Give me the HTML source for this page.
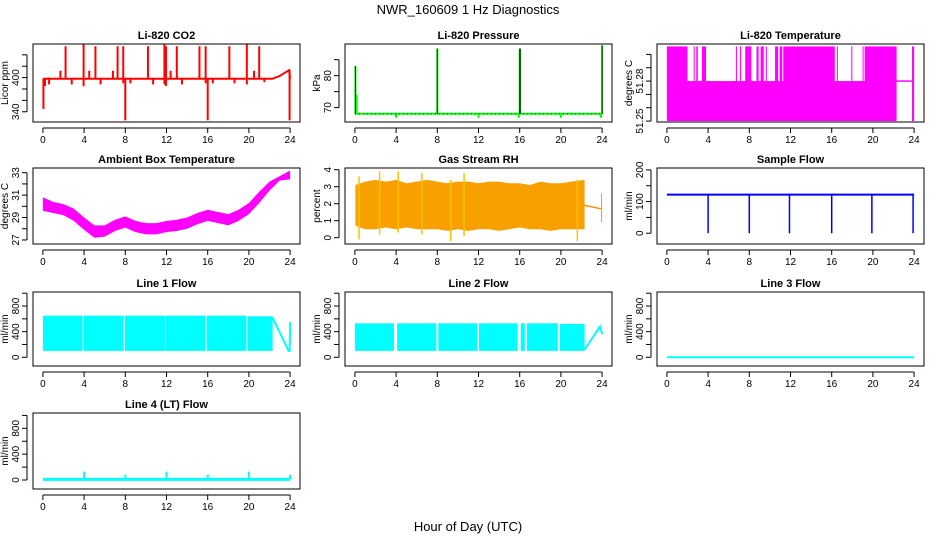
<!DOCTYPE html>
<html><head><meta charset="utf-8"><style>
html,body{margin:0;padding:0;background:#fff;}
svg{display:block;font-family:"Liberation Sans",Arial,sans-serif;}
</style></head><body>
<svg id="chart" width="936" height="540" viewBox="0 0 936 540" xmlns="http://www.w3.org/2000/svg">
<text x="468" y="14" text-anchor="middle" font-size="13">NWR_160609  1 Hz Diagnostics</text>
<text x="468" y="531" text-anchor="middle" font-size="13">Hour of Day (UTC)</text>
</svg>
<script>
// ---- data ----
const xTicks=[0,4,8,12,16,20,24];
const co2Base=[[0,398],[22.3,398],[23,403],[23.9,413],[24,398]];
const co2Spikes=[[0.05,345,398],[0.2,385,398],[0.6,388,400],[1.7,398,412],[2.2,398,455],[2.8,388,398],[3.95,385,458],[4.5,398,412],[5.1,398,455],[5.6,388,398],[6.8,398,412],[7.25,398,455],[7.8,390,455],[8.0,325,398],[8.5,390,398],[10.2,398,455],[10.7,388,398],[11.8,388,458],[11.95,385,455],[12.4,398,412],[13.0,398,455],[13.5,388,398],[15.2,398,455],[15.8,390,455],[16.0,325,398],[16.5,390,398],[18.1,398,455],[18.6,390,398],[19.8,388,458],[20.5,398,412],[21.0,398,455],[21.5,392,398],[23.95,325,413]];
const presBase=[[0,68.1],[24,68.1]];
const presSpikes=[[0.05,68,83],[0.15,68,74],[4,66.8,68.1],[8,68,88.5],[12,66.8,68.1],[15.9,66.8,68.1],[16,68,88.5],[16.05,68,88.5],[20,66.8,68.1],[23.9,66.8,68.1],[24,68,89.5]];
const tempBase=[[0,22.3,51.25,51.28],[23.8,24,51.25,51.306]];
const tempTop=[[0,2.0],[2.6,2.7],[2.85,3.0],[3.4,3.8],[6.7,6.8],[7.1,7.2],[7.6,8.2],[8.7,8.9],[9.1,9.4],[9.6,9.7],[10.5,10.8],[10.95,11.2],[11.3,16.3],[16.5,16.6],[17.9,18.0],[19.0,19.05],[19.2,22.3]];
const tempLine=[[22.3,51.28],[23.8,51.28]];
const ambHours=[0,1,2,3,4,5,6,7,8,9,10,11,12,13,14,15,16,17,18,19,20,21,22,23,24];
const ambHi=[30.8,30.4,30.2,29.8,29.0,28.3,28.3,28.8,29.1,28.7,28.5,28.5,28.7,28.8,29.0,29.4,29.7,29.5,29.3,29.7,30.3,31.3,32.2,32.7,33.2];
const ambLo=[29.6,29.4,29.2,28.7,27.9,27.2,27.3,27.8,28.1,27.7,27.5,27.5,27.7,27.8,28.0,28.4,28.7,28.5,28.3,28.7,29.3,30.3,31.4,32.3,32.4];
const rhHours=[0.05,1,2,3,4,5,6,7,8,9,10,11,12,13,14,15,16,17,18,19,20,21,22.3];
const rhHi=[3.1,3.3,3.4,3.3,3.4,3.2,3.3,3.4,3.3,3.2,3.3,3.3,3.2,3.3,3.3,3.2,3.2,3.1,3.3,3.2,3.2,3.3,3.4];
const rhLo=[0.7,0.5,0.5,0.6,0.5,0.6,0.5,0.5,0.5,0.4,0.5,0.4,0.5,0.5,0.4,0.5,0.6,0.5,0.5,0.4,0.5,0.5,0.5];
const rhPeaks=[[0.4,-0.1,3.6],[2.4,0.2,3.9],[4.2,0.3,3.9],[6.5,0.2,3.8],[9.3,-0.2,3.4],[10.6,0.1,3.8],[21.6,-0.2,3.4]];
const rhTail=[[22.3,1.9],[23.9,1.7]];
const rhEnd=[[23.9,24,0.9,2.6]];
const sampBase=[[0,122],[24,122]];
const sampSpikes=[[4,0,124],[8,0,124],[11.9,0,124],[16,0,124],[19.9,0,124],[23.9,0,124]];
const l1Bands=[[0,3.85,100,650],[3.95,7.85,100,650],[7.95,11.85,100,650],[11.95,15.8,100,650],[15.9,19.75,100,650],[19.85,22.3,100,640]];
const l1Tail=[[22.3,620],[23.85,100],[23.95,100],[24,450],[24,550]];
const l2Bands=[[0,3.8,100,530],[4.1,7.9,100,530],[8.1,11.9,100,530],[12.05,15.8,100,530],[16.1,16.5,100,530],[16.7,19.7,100,530],[19.9,22.3,100,520]];
const l2Tail=[[22.3,120],[23.8,480],[24,360]];
const l3Base=[[0,0],[24,0]];
const l4Base=[[0,10],[24,10]];
const l4Spikes=[[4,10,130],[8,10,80],[12,10,130],[16,10,80],[20,10,130],[24,10,80]];

// ---- layout ----
const NS='http://www.w3.org/2000/svg';
const svg=document.getElementById('chart');
const colX=[33,345,657], W=267;
const rowTop=[44,168,292,413], rowBot=[122,244,366,489];
function mk(tag,attrs,name,parent){
  const el=document.createElementNS(NS,tag);
  for(const k in attrs) el.setAttribute(k,attrs[k]);
  
  
  (parent||svg).appendChild(el);
  return el;
}
function panel(col,row,title,ylab,ymin,ymax,ticks,labels,name){
  const x0=colX[col], x1=x0+W, y0=rowTop[row], y1=rowBot[row];
  const g=mk('g',{},name);
  const pad=9.9;
  const X=h=>x0+pad+h/24*(W-2*pad);
  const Y=v=>y1-(v-ymin)/(ymax-ymin)*(y1-y0);
  const clipId='clip'+name;
  const cp=mk('clipPath',{id:clipId},'clip',g);
  mk('rect',{x:x0,y:y0,width:W,height:y1-y0},'clip-rect',cp);
  const plot=mk('g',{'clip-path':'url(#'+clipId+')'},'plot-area',g);
  mk('rect',{x:x0,y:y0,width:W,height:y1-y0,fill:'none',stroke:'#000','stroke-width':1},'plot-frame',g);
  mk('text',{x:(x0+x1)/2,y:y0-5,'text-anchor':'middle','font-size':11,'font-weight':'bold'},'panel-title',g).textContent=title;
  const ax=mk('g',{},'x-axis',g);
  mk('line',{x1:X(0),x2:X(24),y1:y1+6,y2:y1+6,stroke:'#000'},'x-axis-line',ax);
  xTicks.forEach(t=>{
    mk('line',{x1:X(t),x2:X(t),y1:y1+6,y2:y1+11,stroke:'#000'},'x-tick',ax);
    mk('text',{x:X(t),y:y1+21,'text-anchor':'middle','font-size':10},'x-tick-label',ax).textContent=t;
  });
  const ay=mk('g',{},'y-axis',g);
  mk('line',{x1:x0-6,x2:x0-6,y1:Y(ticks[0]),y2:Y(ticks[ticks.length-1]),stroke:'#000'},'y-axis-line',ay);
  ticks.forEach(t=>{
    mk('line',{x1:x0-11,x2:x0-6,y1:Y(t),y2:Y(t),stroke:'#000'},'y-tick',ay);
  });
  labels.forEach(t=>{
    const yy=Y(t);
    mk('text',{x:x0-14,y:yy,'text-anchor':'middle','font-size':10,transform:'rotate(-90 '+(x0-14)+' '+yy+')'},'y-tick-label',ay).textContent=t;
  });
  const cy=(y0+y1)/2;
  mk('text',{x:x0-25,y:cy,'text-anchor':'middle','font-size':10,transform:'rotate(-90 '+(x0-25)+' '+cy+')'},'y-axis-title',g).textContent=ylab;
  return {X,Y,plot};
}
function line(p,pts,color,w,name,dash){
  const a={points:pts.map(q=>p.X(q[0])+','+p.Y(q[1])).join(' '),fill:'none',stroke:color,'stroke-width':w};
  if(dash) a['stroke-dasharray']=dash;
  mk('polyline',a,name,p.plot);
}
function spikes(p,arr,color,w,name){
  arr.forEach(s=>mk('line',{x1:p.X(s[0]),x2:p.X(s[0]),y1:p.Y(s[1]),y2:p.Y(s[2]),stroke:color,'stroke-width':w},name,p.plot));
}
function bands(p,arr,color,name){
  arr.forEach(b=>mk('rect',{x:p.X(b[0]),y:p.Y(b[3]),width:Math.max(1,p.X(b[1])-p.X(b[0])),height:p.Y(b[2])-p.Y(b[3]),fill:color},name,p.plot));
}
function envelope(p,xs,lo,hi,fill,name){
  const pts=xs.map((h,i)=>p.X(h)+','+p.Y(hi[i])).concat(xs.slice().reverse().map((h,i)=>p.X(h)+','+p.Y(lo[xs.length-1-i])));
  mk('polygon',{points:pts.join(' '),fill:fill},name,p.plot);
}

let p=panel(0,0,'Li-820 CO2','Licor ppm',322,459,[340,360,380,400,420,440],[340,400],'panel-co2');
line(p,co2Base,'#ff0000',2,'co2-line');
spikes(p,co2Spikes,'#ff0000',2,'co2-spike');
p=panel(1,0,'Li-820 Pressure','kPa',65.5,89.9,[70,75,80,85],[70,80],'panel-pressure');
line(p,presBase,'#00ff00',2,'pressure-line');
spikes(p,presSpikes,'#00ff00',2,'pressure-spike');
line(p,presBase,'#000',1,'pressure-dotted','1 3');
spikes(p,presSpikes.filter(s=>s[2]>80),'#222',1,'pressure-spike-dotted');
p=panel(2,0,'Li-820 Temperature','degrees C',51.2493,51.3078,[51.25,51.26,51.27,51.28,51.29,51.30],[51.25,51.28],'panel-li820-temp');
bands(p,tempBase,'#ff00ff','temp-band');
bands(p,tempTop.map(t=>[t[0],t[1],51.279,51.306]),'#ff00ff','temp-upper-band');
line(p,tempLine,'#ff00ff',1.5,'temp-line');
p=panel(0,1,'Ambient Box Temperature','degrees C',26.64,33.42,[27,28,29,30,31,32,33],[27,29,31,33],'panel-ambient');
envelope(p,ambHours,ambLo,ambHi,'#ff00ff','ambient-band');
p=panel(1,1,'Gas Stream RH','percent',-0.37,4.1,[0,1,2,3,4],[0,1,2,3,4],'panel-rh');
envelope(p,rhHours,rhLo,rhHi,'#f7a000','rh-band');
spikes(p,rhPeaks,'#ffc000',1.5,'rh-peak');
line(p,rhTail,'#ff9000',1.5,'rh-tail');
bands(p,rhEnd,'#f7a000','rh-end-band');
p=panel(2,1,'Sample Flow','ml/min',-34,206,[0,50,100,150,200],[0,100,200],'panel-sample-flow');
line(p,sampBase,'#0000ff',2,'sample-line');
spikes(p,sampSpikes,'#0000ff',1.5,'sample-spike');
p=panel(0,2,'Line 1 Flow','ml/min',-136,1019,[0,200,400,600,800,1000],[0,400,800],'panel-line1');
bands(p,l1Bands,'#00ffff','line1-band');
line(p,l1Tail,'#00ffff',2,'line1-tail');
p=panel(1,2,'Line 2 Flow','ml/min',-136,1019,[0,200,400,600,800,1000],[0,400,800],'panel-line2');
bands(p,l2Bands,'#00ffff','line2-band');
line(p,l2Tail,'#00ffff',2,'line2-tail');
p=panel(2,2,'Line 3 Flow','ml/min',-136,1019,[0,200,400,600,800,1000],[0,400,800],'panel-line3');
line(p,l3Base,'#00ffff',2,'line3-line');
p=panel(0,3,'Line 4 (LT) Flow','ml/min',-139,1037,[0,200,400,600,800,1000],[0,400,800],'panel-line4');
line(p,l4Base,'#00ffff',3,'line4-line');
spikes(p,l4Spikes,'#00ffff',2,'line4-spike');
</script>
</body></html>
